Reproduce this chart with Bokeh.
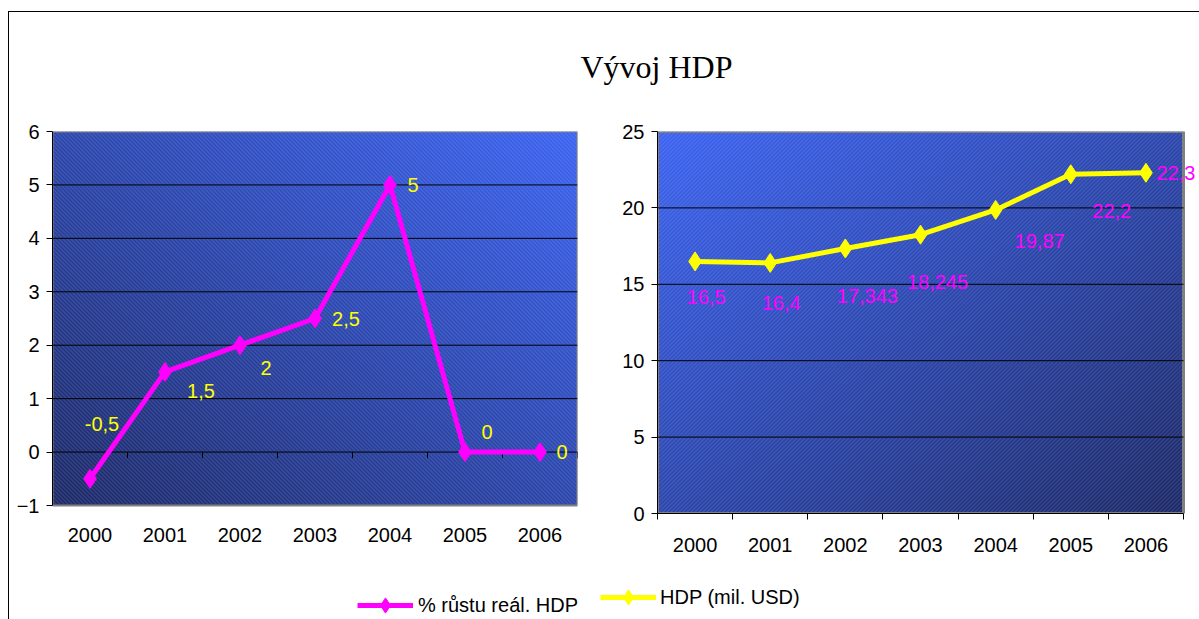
import numpy as np
from bokeh.plotting import figure
from bokeh.models import (Range1d, FixedTicker, LinearAxis, LabelSet, ColumnDataSource,
                          Legend, LegendItem, Label)
from bokeh.core.properties import value
from bokeh.layouts import column, row
from bokeh.embed import file_html
from bokeh.resources import INLINE

# ---------------- data ----------------
years = [2000, 2001, 2002, 2003, 2004, 2005, 2006]
growth = [-0.5, 1.5, 2, 2.5, 5, 0, 0]          # % růstu reál. HDP
gdp = [16.5, 16.4, 17.343, 18.245, 19.87, 22.2, 22.3]  # HDP (mil. USD)
growth_ticks = [-1, 0, 1, 2, 3, 4, 5, 6]
gdp_ticks = [0, 5, 10, 15, 20, 25]
title_text = "Vývoj HDP"
growth_name = "% růstu reál. HDP"
gdp_name = "HDP (mil. USD)"

# label placement (pixel offsets from the point, right / up)
growth_dx = [12, 36, 26, 31, 23, 22, 22]
growth_dy = [55, -19, -23, 0, 0, 20, 0]
gdp_dx = [11, 11, 22, 17, 44, 41, 30]
gdp_dy = [-36, -40, -48, -47, -31, -37, 0]

MAGENTA = "#FF00FF"
YELLOW = "#FFFF00"
GREY = "#808080"
FONT = "Liberation Sans"
FS = "20px"


def fmt(v):
    return f"{v:g}".replace(".", ",")


def background(w, h, flip):
    X, Y = np.meshgrid(np.linspace(0, 1, w), np.linspace(0, 1, h))
    t = (((1 - X) if flip else X) + Y) / 2.0
    bright = np.array([58, 98, 242], dtype=float)
    dark = np.array([27, 40, 102], dtype=float)
    rgb = dark[None, None, :] + t[..., None] * (bright - dark)[None, None, :]
    C, R = np.meshgrid(np.arange(w), np.arange(h))
    mask = ((C - R) % 4 == 0) if flip else ((C + R) % 4 == 0)
    rgb[mask] = rgb[mask] * 0.78 + 255 * 0.22
    img = np.empty((h, w), dtype=np.uint32)
    v = img.view(dtype=np.uint8).reshape((h, w, 4))
    v[..., :3] = rgb.astype(np.uint8)
    v[..., 3] = 255
    return img


xmin, xmax = years[0] - 0.5, years[-1] + 0.5
bounds = [y - 0.5 for y in years] + [years[-1] + 0.5]


def style_axes(p):
    for ax in p.axis:
        ax.major_label_text_font = FONT
        ax.major_label_text_font_size = FS
        ax.major_label_text_color = "black"
        ax.minor_tick_line_color = None


ROW_H = 468
TOP = 29          # frame top offset inside the row
FH = 382          # frame height (both plots, aligned by the row)

# ---------------- title ----------------
tf = figure(width=1190, height=90, x_range=Range1d(0, 1), y_range=Range1d(0, 1),
            toolbar_location=None, output_backend="svg", x_axis_location=None,
            y_axis_location=None, min_border=0, outline_line_color=None)
tf.grid.visible = False
tf.add_layout(Label(x=647, y=36, x_units="screen", y_units="screen", text=title_text,
                    text_align="center", text_baseline="middle",
                    text_font="Liberation Serif", text_font_size="32px", text_color="black"))

# ---------------- left plot ----------------
FW1, FH1 = 525, 374          # visible chart area in px
g_lo, g_hi = growth_ticks[0], growth_ticks[-1]
pxu = FH1 / (g_hi - g_lo)
lp = figure(width=591, height=ROW_H, x_range=Range1d(xmin, xmax),
            y_range=Range1d(g_lo - (FH - FH1) / pxu, g_hi),
            toolbar_location=None, output_backend="svg",
            min_border_left=43, min_border_right=23, min_border_top=TOP,
            min_border_bottom=ROW_H - TOP - FH, outline_line_color=None)
lp.image_rgba(image=[background(FW1, FH1, False)], x=xmin, y=g_lo,
              dw=xmax - xmin, dh=g_hi - g_lo, level="image")
lp.quad(left=xmin, right=xmax, bottom=g_lo, top=g_hi, fill_color=None,
        line_color=GREY, line_width=2, level="underlay")
lp.grid.visible = False
inner1 = growth_ticks[1:-1]
lp.segment(x0=[xmin] * len(inner1), x1=[xmax] * len(inner1), y0=inner1, y1=inner1,
           line_color="black", line_width=1)
lp.xaxis.ticker = FixedTicker(ticks=years)
lp.xaxis.axis_line_color = None
lp.xaxis.major_tick_line_color = None
lp.xaxis.major_label_standoff = 8
lp.yaxis.ticker = FixedTicker(ticks=growth_ticks)
lp.yaxis.bounds = (g_lo, g_hi)
lp.yaxis.axis_line_color = "black"
lp.yaxis.major_tick_out = 6
lp.yaxis.major_tick_in = 0
lp.yaxis.major_label_standoff = 7
style_axes(lp)
# category tick marks hanging from the zero line
lp.segment(x0=bounds[1:], y0=[0] * (len(bounds) - 1), x1=bounds[1:],
           y1=[-6 / pxu] * (len(bounds) - 1), line_color="black", line_width=1)

src1 = ColumnDataSource(dict(x=years, y=growth, t=[fmt(v) for v in growth],
                             dx=growth_dx, dy=growth_dy))
lp.line("x", "y", source=src1, line_color=MAGENTA, line_width=5)
lp.scatter("x", "y", source=src1, marker="diamond", size=19, fill_color=MAGENTA,
           line_color=MAGENTA)
lp.add_layout(LabelSet(x="x", y="y", text="t", source=src1, x_offset="dx", y_offset="dy",
                       text_align="center", text_baseline="middle", text_color=YELLOW,
                       text_font=value(FONT), text_font_size=value(FS)))

# ---------------- right plot ----------------
FW2 = 526                    # visible chart width in px
RW = 599
frame_w2 = RW - 57
d_lo, d_hi = gdp_ticks[0], gdp_ticks[-1]
rp = figure(width=RW, height=ROW_H,
            x_range=Range1d(xmin, xmax + (frame_w2 - FW2) * (xmax - xmin) / FW2),
            y_range=Range1d(d_lo, d_hi),
            toolbar_location=None, output_backend="svg",
            min_border_left=57, min_border_right=0, min_border_top=TOP,
            min_border_bottom=ROW_H - TOP - FH, outline_line_color=None)
rp.image_rgba(image=[background(FW2, FH, True)], x=xmin, y=d_lo,
              dw=xmax - xmin, dh=d_hi - d_lo, level="image")
rp.quad(left=xmin, right=xmax, bottom=d_lo, top=d_hi, fill_color=None,
        line_color=GREY, line_width=3, level="underlay")
rp.grid.visible = False
inner2 = gdp_ticks[1:-1]
rp.segment(x0=[xmin] * len(inner2), x1=[xmax] * len(inner2), y0=inner2, y1=inner2,
           line_color="black", line_width=1)
rp.xaxis.ticker = FixedTicker(ticks=bounds)
rp.xaxis.bounds = (xmin, xmax)
rp.xaxis.axis_line_color = "black"
rp.xaxis.major_tick_out = 6
rp.xaxis.major_tick_in = 0
rp.xaxis.major_label_standoff = 0
rp.yaxis.ticker = FixedTicker(ticks=gdp_ticks)
rp.yaxis.axis_line_color = "black"
rp.yaxis.major_tick_out = 6
rp.yaxis.major_tick_in = 0
rp.yaxis.major_label_standoff = 7
style_axes(rp)
rp.xaxis.major_label_text_font_size = "0px"
rp.xaxis.major_label_text_alpha = 0
lab_axis = LinearAxis(ticker=FixedTicker(ticks=years), axis_line_color=None,
                      major_tick_line_color=None, minor_tick_line_color=None,
                      major_label_standoff=12, major_label_text_font=FONT,
                      major_label_text_font_size=FS, major_label_text_color="black")
rp.add_layout(lab_axis, "below")

src2 = ColumnDataSource(dict(x=years, y=gdp, t=[fmt(v) for v in gdp], dx=gdp_dx, dy=gdp_dy))
rp.line("x", "y", source=src2, line_color=YELLOW, line_width=5)
rp.scatter("x", "y", source=src2, marker="diamond", size=19, fill_color=YELLOW,
           line_color=YELLOW)
rp.add_layout(LabelSet(x="x", y="y", text="t", source=src2, x_offset="dx", y_offset="dy",
                       text_align="center", text_baseline="middle", text_color=MAGENTA,
                       text_font=value(FONT), text_font_size=value(FS)))

# ---------------- legend ----------------
lf = figure(width=1190, height=49, x_range=Range1d(0, 1), y_range=Range1d(0, 1),
            toolbar_location=None, output_backend="svg", x_axis_location=None,
            y_axis_location=None, min_border=0, outline_line_color=None)
lf.grid.visible = False
# same series, drawn outside this strip's view; only their legend glyphs show
ml = lf.line("x", "y", source=src1, line_color=MAGENTA, line_width=5)
ms = lf.scatter("x", "y", source=src1, marker="diamond", size=16, fill_color=MAGENTA,
                line_color=MAGENTA)
yl = lf.line("x", "y", source=src2, line_color=YELLOW, line_width=5)
ys = lf.scatter("x", "y", source=src2, marker="diamond", size=16, fill_color=YELLOW,
                line_color=YELLOW)
for label, rends, loc, stand in ((growth_name, [ml, ms], (348, -5), 5),
                                 (gdp_name, [yl, ys], (591, 3), 4)):
    lf.add_layout(Legend(items=[LegendItem(label=label, renderers=rends)], location=loc,
                         glyph_width=56, glyph_height=38, label_standoff=stand,
                         padding=0, margin=0, spacing=0, border_line_color=None,
                         background_fill_alpha=0, label_text_font=FONT,
                         label_text_font_size=FS, label_text_color="black"))

layout = column(tf, row(lp, rp), lf,
                styles={"border-left": "1px solid black", "border-top": "1px solid black",
                        "margin-top": "11px", "margin-left": "8px"})

open("out.html", "w").write(file_html(layout, INLINE))
